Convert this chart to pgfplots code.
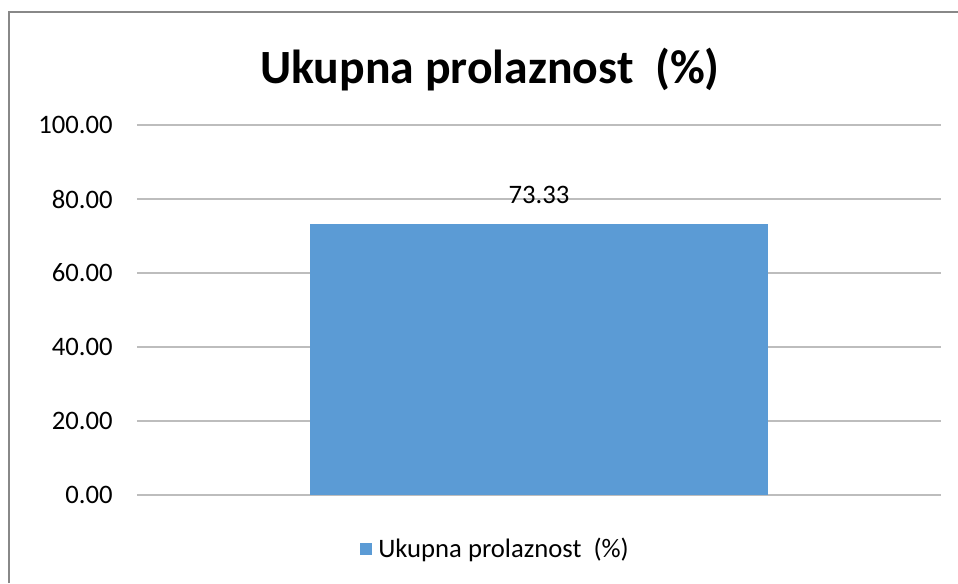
\documentclass[border=0pt]{standalone}
\usepackage{fontspec}
\setmainfont{Carlito}
\usepackage{pgfplots}
\pgfplotsset{compat=1.18}
\definecolor{barBlue}{HTML}{5B9BD5}
\definecolor{gridGray}{HTML}{BDBDBD}
\definecolor{frameGray}{HTML}{888888}

\begin{document}
\begin{tikzpicture}[x=0.75pt, y=0.75pt]
  % page in reference pixels, y counted from the bottom
  \useasboundingbox (0,0) rectangle (958,583);
  \draw[frameGray, line width=1.5pt] (9,0) -- (9,571) -- (958,571);
  \node[font=\fontsize{35.8pt}{43pt}\selectfont\bfseries] at (490,513) {Ukupna prolaznost~ (\%)};

  \begin{axis}[
      at={(102.75pt,66pt)}, anchor=south west,
      scale only axis, width=603pt, height=277.5pt,
      ybar, bar width=343.5pt,
      xmin=0, xmax=1, ymin=0, ymax=100,
      xtick=\empty, ytick={0,20,...,100},
      axis line style={draw=none},
      major tick length=0pt,
      ymajorgrids, grid style={gridGray, line width=0.8pt},
      yticklabel style={font=\fontsize{20pt}{24pt}\selectfont, anchor=east, inner sep=0pt, xshift=-18pt,
        /pgf/number format/.cd, fixed, fixed zerofill, precision=2, assume math mode=true},
      nodes near coords={\pgfmathprintnumber[fixed, fixed zerofill, precision=2, assume math mode=true]{\pgfplotspointmeta}},
      every node near coord/.append style={font=\fontsize{20pt}{24pt}\selectfont, anchor=south, inner sep=0pt, yshift=15pt},
      legend style={at={(0.2774,-0.146)}, anchor=west, draw=none, fill=none, inner sep=0pt,
        font=\fontsize{20pt}{24pt}\selectfont, column sep=4.5pt, nodes={inner sep=0pt}},
      legend image code/.code={\fill[#1] (0pt,-4.5pt) rectangle (9pt,4.5pt);},
    ]
    \addplot[fill=barBlue, draw=none] coordinates {(0.5,73.33)};
    \legend{Ukupna prolaznost~ (\%)}
  \end{axis}
\end{tikzpicture}
\end{document}
